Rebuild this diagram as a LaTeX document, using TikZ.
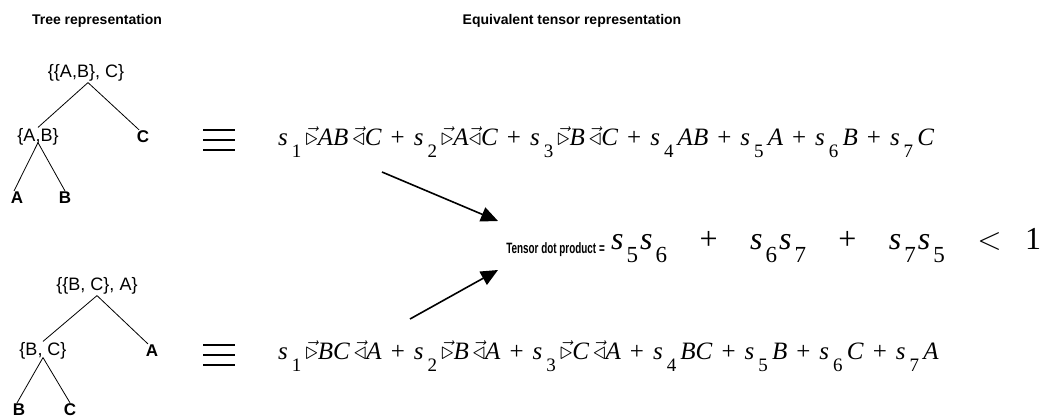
\documentclass[tikz,border=0pt]{standalone}
\usepackage{fix-cm}
\usepackage{fontspec}
\setmainfont{Liberation Serif}
\setsansfont{Liberation Sans}
\usetikzlibrary{arrows.meta}
\newcommand\Sv[1]{\textit{s}\hspace{4pt}\raisebox{-0.5em}{\fontsize{19}{19}\selectfont #1}}
\newcommand\Tv[1]{\textit{s}\hspace{3pt}\raisebox{-0.42em}{\fontsize{23}{23}\selectfont #1}}
\newcommand\vtr{$\vec{\triangleright}$}
\newcommand\vtl{$\vec{\triangleleft}$}
\newcommand\Pl{\hspace{9pt}+\hspace{9pt}}
\newcommand\Gp{\hspace{10pt plus 1fil}}
\begin{document}
\begin{tikzpicture}[x=1pt,y=-1pt,
  title/.style={font=\sffamily\bfseries\fontsize{14}{16}\selectfont},
  lab/.style={font=\sffamily\fontsize{18}{20}\selectfont,inner sep=1pt},
  leaf/.style={font=\sffamily\bfseries\fontsize{17}{19}\selectfont,inner sep=1pt},
  formula/.style={font=\rmfamily\fontsize{25}{29}\selectfont,anchor=base west,inner sep=0pt},
  branch/.style={line width=0.8pt},
  eqline/.style={line width=1.6pt},
  bigarrow/.style={line width=1.6pt,-{Triangle[length=17pt,width=15pt]}}]
\useasboundingbox (0,0) rectangle (1047,418);

\node[title] (t1) at (97,21) {Tree representation};
\node[title] (t2) at (572,21) {Equivalent tensor representation};

% tree 1
\node[lab] (r1) at (86,73) {\{\{A,B\}, C\}};
\node[lab] (ab) at (38,137) {\{A,B\}};
\node[leaf] (c1) at (143,137) {C};
\node[leaf] (a1) at (17,198) {A};
\node[leaf] (b1) at (65,198) {B};
\draw[branch] (r1.south) ++(2,0) coordinate (r1s) -- (ab.north);
\draw[branch] (r1s) -- ([xshift=-4pt]c1.north);
\draw[branch] ([yshift=4pt]ab.south) -- ([xshift=-3pt]a1.north);
\draw[branch] ([yshift=4pt]ab.south) -- (b1.north);

% tree 2
\node[lab] (r2) at (97,286) {\{\{B, C\}, A\}};
\node[lab] (bc) at (43,351) {\{B, C\}};
\node[leaf] (a2) at (152,351) {A};
\node[leaf] (b2) at (19,410) {B};
\node[leaf] (c2) at (70,410) {C};
\draw[branch] (r2.south) -- (bc.north);
\draw[branch] (r2.south) -- ([xshift=-4pt]a2.north);
\draw[branch] ([yshift=3pt]bc.south) -- ([xshift=-2pt]b2.north);
\draw[branch] ([yshift=3pt]bc.south) -- (c2.north);

% equivalence signs
\foreach \yy in {130,140,150} \draw[eqline] (203,\yy) -- (235,\yy);
\foreach \yy in {345,355,365} \draw[eqline] (203,\yy) -- (235,\yy);

% formulas
\node[formula] (f1) at (278,145) {\Sv{1}\,\vtr\textit{AB}\,\vtl\textit{C}\Pl\Sv{2}\,\vtr\textit{A}\vtl\textit{C}\Pl\Sv{3}\,\vtr\textit{B}\,\vtl\textit{C}\Pl\Sv{4}\,\textit{AB}\Pl\Sv{5}\,\textit{A}\Pl\Sv{6}\,\textit{B}\Pl\Sv{7}\,\textit{C}};
\node[formula] (f2) at (278,359) {\Sv{1}\,\vtr\textit{BC}\,\vtl\textit{A}\Pl\Sv{2}\,\vtr\textit{B}\,\vtl\textit{A}\Pl\Sv{3}\,\vtr\textit{C}\,\vtl\textit{A}\Pl\Sv{4}\,\textit{BC}\Pl\Sv{5}\,\textit{B}\Pl\Sv{6}\,\textit{C}\Pl\Sv{7}\,\textit{A}};

% tensor dot product
\node[font=\sffamily\bfseries\fontsize{15}{17}\selectfont,anchor=base east,inner sep=0pt] (td) at (605,253) {\scalebox{0.66}[1]{Tensor dot product =}};
\node[font=\rmfamily\fontsize{32}{36}\selectfont,anchor=base west,inner sep=0pt] (tf) at (611,249) {\hbox to 430pt{\Tv{5}\hspace{2pt}\Tv{6}\Gp+\Gp\Tv{6}\hspace{2pt}\Tv{7}\Gp+\Gp\Tv{7}\hspace{2pt}\Tv{5}\Gp$<$\hspace{10pt plus 0.6fil}1}};

% arrows
\coordinate (u1) at (382,172);
\coordinate (u2) at (498,221);
\coordinate (l1) at (410,319);
\coordinate (l2) at (498,270);
\draw[bigarrow] (u1) -- (u2);
\draw[bigarrow] (l1) -- (l2);
\end{tikzpicture}
\end{document}
